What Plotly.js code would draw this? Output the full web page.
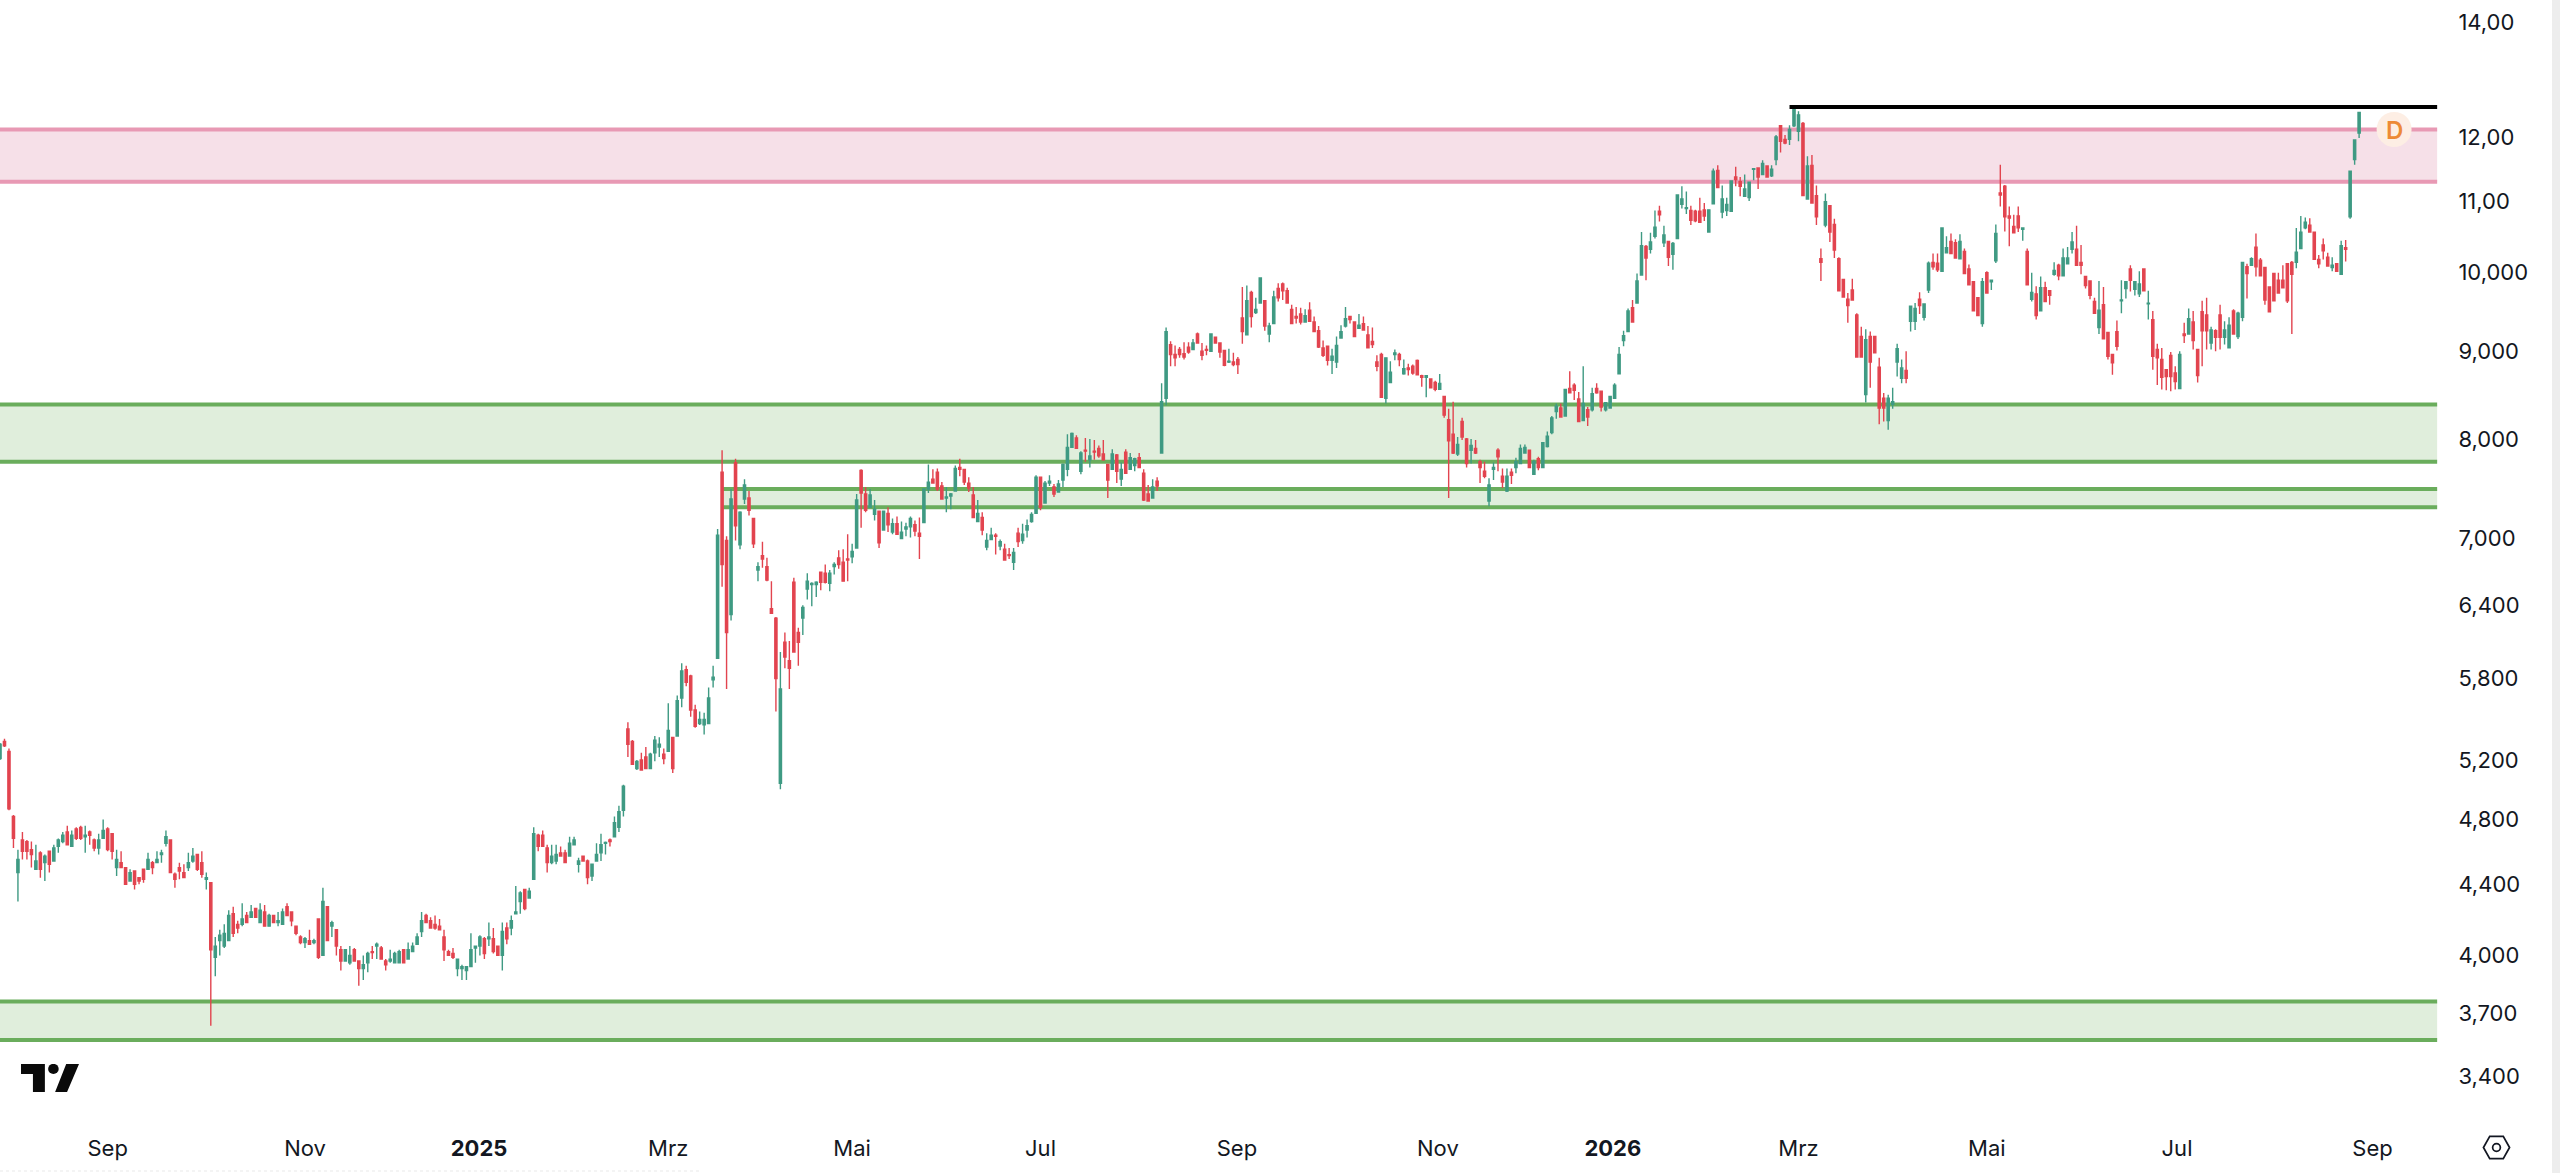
<!DOCTYPE html>
<html><head><meta charset="utf-8">
<script src="https://cdn.plot.ly/plotly-3.0.1.min.js"></script>
<style>html,body{margin:0;padding:0;background:#fff}#chart{width:2560px;height:1173px}</style>
</head><body><div id="chart"></div>
<script>
// each row: open, high, low, close
const bars2024 = [
[5.21,5.32,5.20,5.31],[5.33,5.35,5.29,5.30],[5.26,5.28,4.86,4.87],[4.82,4.83,4.62,4.68],[4.47,4.61,4.30,4.55],[4.67,4.72,4.55,4.60],[4.66,4.67,4.55,4.60],[4.61,4.66,4.50,4.58],[4.49,4.64,4.49,4.54],[4.59,4.60,4.44,4.49],
[4.53,4.58,4.42,4.57],[4.60,4.60,4.47,4.52],[4.54,4.64,4.54,4.62],[4.63,4.68,4.59,4.67],[4.66,4.72,4.65,4.70],[4.72,4.76,4.64,4.64],[4.63,4.73,4.63,4.70],[4.74,4.75,4.67,4.68],[4.75,4.76,4.67,4.68],[4.69,4.76,4.59,4.70],
[4.72,4.73,4.64,4.70],[4.67,4.68,4.60,4.62],[4.62,4.71,4.58,4.67],[4.68,4.80,4.68,4.73],[4.74,4.75,4.60,4.61],[4.71,4.71,4.55,4.60],[4.50,4.61,4.45,4.55],[4.53,4.60,4.50,4.50],[4.50,4.50,4.40,4.40],[4.42,4.49,4.42,4.47],
[4.48,4.48,4.37,4.40],[4.44,4.44,4.40,4.42],[4.49,4.49,4.41,4.43],[4.49,4.59,4.49,4.55],[4.53,4.54,4.46,4.50],[4.53,4.60,4.53,4.55],[4.58,4.61,4.53,4.59],[4.65,4.73,4.63,4.69],[4.67,4.67,4.47,4.47],[4.46,4.47,4.38,4.43],
[4.50,4.53,4.43,4.48],[4.47,4.52,4.44,4.44],[4.50,4.59,4.48,4.53],[4.54,4.62,4.53,4.57],[4.58,4.58,4.48,4.49],[4.53,4.60,4.44,4.46],[4.43,4.47,4.37,4.44],[4.41,4.41,3.64,4.03],[3.99,4.10,3.89,4.05],[4.08,4.14,4.00,4.11],
[4.05,4.17,4.04,4.12],[4.08,4.25,4.08,4.22],[4.23,4.27,4.10,4.12],[4.17,4.19,4.12,4.15],[4.17,4.29,4.16,4.20],[4.22,4.24,4.18,4.18],[4.21,4.28,4.21,4.24],[4.26,4.26,4.21,4.21],[4.18,4.29,4.18,4.25],[4.24,4.28,4.16,4.16],
[4.16,4.23,4.16,4.22],[4.22,4.22,4.18,4.18],[4.18,4.24,4.16,4.19],[4.17,4.26,4.17,4.24],[4.27,4.29,4.22,4.22],[4.24,4.24,4.16,4.19],[4.16,4.16,4.11,4.12],[4.10,4.11,4.06,4.07],[4.07,4.10,4.04,4.09],[4.08,4.14,4.06,4.06],
[4.07,4.09,4.06,4.08],[4.20,4.20,3.98,3.99],[4.00,4.38,4.00,4.30],[4.27,4.27,4.08,4.08],[4.16,4.19,4.10,4.18],[4.14,4.14,4.00,4.05],[4.03,4.05,3.92,3.97],[3.97,4.03,3.97,4.03],[3.96,4.05,3.95,4.00],[4.03,4.04,3.97,3.97],
[3.97,3.97,3.84,3.93],[3.93,4.00,3.87,3.95],[3.96,4.02,3.91,4.01],[4.02,4.05,3.98,4.015],[4.05,4.07,3.98,4.06],[4.04,4.05,3.98,3.98],[3.97,3.98,3.92,3.95],[3.97,4.03,3.96,3.98],[3.96,4.02,3.96,4.01],[3.96,4.03,3.96,4.02],
[4.03,4.03,3.96,3.96],[3.98,4.07,3.98,4.03],[4.02,4.07,4.02,4.05],[4.06,4.12,4.06,4.10],[4.13,4.24,4.10,4.19],[4.22,4.23,4.18,4.18],[4.19,4.21,4.15,4.15],[4.17,4.22,4.14,4.15],[4.16,4.20,4.14,4.14],[4.10,4.14,3.97,4.03],
[4.02,4.03,4.00,4.00],[4.01,4.04,3.98,3.99],[3.93,3.98,3.89,3.98],[3.93,3.95,3.87,3.94],[3.92,3.94,3.87,3.94],[3.94,4.12,3.94,4.03]];
const bars2025a = [
[4.04,4.05,3.96,4.05],[4.05,4.11,4.00,4.10],[4.09,4.10,3.98,4.01],[4.09,4.18,4.05,4.10],[4.09,4.15,4.01,4.02],[4.05,4.05,4.00,4.00],[4.00,4.18,3.92,4.13],[4.15,4.18,4.06,4.09],[4.15,4.22,4.11,4.19],
[4.23,4.39,4.23,4.24],[4.30,4.36,4.23,4.35],[4.37,4.37,4.25,4.26],[4.32,4.38,4.32,4.36],[4.43,4.75,4.43,4.71],[4.70,4.71,4.60,4.63],[4.70,4.73,4.63,4.63],[4.62,4.64,4.47,4.53],[4.53,4.64,4.52,4.57],[4.54,4.64,4.52,4.58],[4.59,4.63,4.57,4.57],
[4.59,4.61,4.53,4.53],[4.57,4.69,4.57,4.65],[4.64,4.69,4.64,4.67],[4.52,4.56,4.47,4.54],[4.57,4.57,4.54,4.54],[4.54,4.55,4.40,4.44],[4.45,4.52,4.42,4.52],[4.54,4.65,4.54,4.58],[4.59,4.71,4.54,4.64],[4.65,4.66,4.58,4.655],
[4.67,4.68,4.63,4.66],[4.69,4.82,4.69,4.78],[4.75,4.89,4.72,4.85],[4.86,5.03,4.82,5.02],[5.42,5.47,5.22,5.31],[5.33,5.34,5.17,5.17],[5.14,5.20,5.13,5.19],[5.20,5.25,5.13,5.13],[5.22,5.29,5.14,5.14],[5.14,5.25,5.14,5.24],
[5.25,5.37,5.19,5.34],[5.29,5.36,5.22,5.31],[5.24,5.28,5.17,5.21],[5.26,5.61,5.26,5.41],[5.36,5.36,5.11,5.14],[5.37,5.67,5.37,5.63],[5.65,5.92,5.58,5.86],[5.87,5.90,5.74,5.77],[5.82,5.83,5.51,5.56],[5.56,5.60,5.43,5.44],
[5.46,5.55,5.45,5.49],[5.45,5.54,5.38,5.49],[5.46,5.73,5.46,5.65],[5.79,5.90,5.73,5.81],[5.96,7.09,5.96,7.03],[7.65,7.88,6.56,6.76],[6.98,7.02,5.72,6.17],[6.32,7.48,6.27,7.38],[7.75,7.79,6.98,7.12],[6.94,7.26,6.90,7.25],
[7.38,7.58,7.33,7.52],[7.39,7.46,7.22,7.27],[7.19,7.19,6.91,6.95],[6.71,6.78,6.61,6.74],[6.84,6.97,6.73,6.81],[6.74,6.82,6.61,6.62],[6.37,6.61,6.33,6.33],[6.29,6.30,5.55,5.80],[5.04,6.01,5.00,5.72],[6.09,6.17,5.88,5.97],
[5.94,6.10,5.72,5.88],[6.60,6.64,6.01,6.01],[6.17,6.21,5.90,6.09],[6.29,6.40,6.15,6.38],[6.54,6.68,6.45,6.61],[6.58,6.60,6.39,6.59],[6.58,6.61,6.47,6.60],[6.69,6.69,6.53,6.60],[6.68,6.76,6.59,6.60],[6.59,6.71,6.52,6.68],
[6.74,6.78,6.67,6.76],[6.82,6.89,6.72,6.76],[6.78,6.90,6.61,6.61],[6.81,7.04,6.61,6.80],[6.83,6.95,6.77,6.88],[6.91,7.43,6.91,7.37],[7.67,7.68,7.10,7.44],[7.43,7.50,7.25,7.27],[7.30,7.48,7.30,7.42],[7.23,7.37,7.17,7.28],
[7.26,7.26,6.91,6.96],[7.08,7.26,7.08,7.26],[7.24,7.30,7.06,7.13],[7.06,7.19,7.04,7.14],[7.14,7.21,7.04,7.04],[7.00,7.16,7.00,7.06],[7.09,7.15,7.02,7.11],[7.11,7.21,7.01,7.19],[7.13,7.17,7.02,7.07],[7.05,7.20,6.81,7.02],
[7.15,7.48,7.15,7.48],[7.48,7.73,7.44,7.55],[7.58,7.68,7.54,7.54],[7.65,7.69,7.46,7.48],[7.51,7.55,7.38,7.38],[7.39,7.50,7.25,7.40],[7.41,7.44,7.28,7.43],[7.46,7.72,7.46,7.69],[7.70,7.79,7.61,7.68],[7.68,7.68,7.52,7.55],
[7.54,7.60,7.45,7.49],[7.42,7.50,7.20,7.20],[7.16,7.37,7.16,7.24],[7.20,7.25,7.03,7.08],[6.92,7.05,6.89,6.98],[6.99,7.10,6.99,7.03],[7.03,7.05,6.85,7.02],[6.93,6.99,6.89,6.97],[6.90,6.95,6.80,6.80],[6.85,6.91,6.81,6.84],
[6.78,6.91,6.71,6.87],[7.05,7.10,6.92,6.97],[6.98,7.14,6.95,7.04],[7.08,7.18,7.01,7.12],[7.16,7.25,7.15,7.23],[7.24,7.62,7.24,7.60],[7.60,7.60,7.27,7.30],[7.34,7.56,7.34,7.54],[7.54,7.62,7.51,7.56],[7.50,7.53,7.40,7.43]];
const bars2025b = [
[7.45,7.57,7.45,7.53],[7.57,7.74,7.50,7.73],[7.68,8.05,7.61,7.91],[7.91,8.07,7.91,8.06],[8.01,8.04,7.90,7.90],[7.66,7.87,7.63,7.85],[7.88,8.01,7.76,7.87],[7.78,8.00,7.70,7.82],[7.87,7.99,7.78,7.86],[7.90,7.93,7.80,7.82],
[7.84,7.99,7.77,7.78],[7.73,7.73,7.39,7.57],[7.68,7.89,7.68,7.84],[7.83,7.84,7.54,7.66],[7.58,7.75,7.51,7.68],[7.86,7.89,7.64,7.64],[7.68,7.85,7.68,7.80],[7.72,7.80,7.66,7.79],[7.80,7.85,7.70,7.70],[7.64,7.68,7.36,7.37],
[7.43,7.52,7.36,7.36],[7.39,7.58,7.39,7.50],[7.56,7.60,7.46,7.51],[7.85,8.62,7.85,8.41],[8.45,9.29,8.37,9.24],[9.08,9.12,8.82,8.96],[8.96,9.07,8.82,8.92],[9.02,9.05,8.92,8.96],[8.97,9.11,8.90,8.93],[9.05,9.11,8.97,8.99],
[9.02,9.15,9.02,9.10],[9.21,9.23,9.09,9.10],[9.00,9.10,8.89,8.95],[9.02,9.07,8.95,9.01],[9.00,9.21,9.00,9.21],[9.17,9.18,9.10,9.10],[9.10,9.10,8.92,8.99],[9.01,9.01,8.82,8.83],[8.87,9.03,8.86,8.88],[8.87,8.98,8.82,8.84],
[8.90,8.93,8.73,8.84],[9.41,9.81,9.09,9.24],[9.20,9.83,9.20,9.63],[9.74,9.76,9.29,9.43],[9.48,9.67,9.46,9.52],[9.60,9.93,9.60,9.93],[9.63,9.64,9.25,9.31],[9.21,9.35,9.11,9.31],[9.34,9.76,9.34,9.68],[9.79,9.86,9.62,9.67],
[9.85,9.87,9.64,9.76],[9.76,9.80,9.60,9.60],[9.52,9.58,9.34,9.34],[9.43,9.55,9.34,9.41],[9.46,9.54,9.33,9.36],[9.36,9.52,9.36,9.44],[9.51,9.61,9.37,9.37],[9.36,9.43,9.24,9.24],[9.25,9.31,9.04,9.05],[9.04,9.13,8.93,8.95],
[9.06,9.07,8.83,8.89],[8.89,9.03,8.73,8.94],[8.87,9.18,8.80,9.07],[9.16,9.32,9.16,9.24],[9.31,9.55,9.29,9.40],[9.43,9.44,9.34,9.39],[9.36,9.37,9.18,9.18],[9.28,9.46,9.28,9.32],[9.34,9.43,9.26,9.26],[9.20,9.31,9.04,9.04],
[9.12,9.29,9.04,9.08],[8.87,8.95,8.76,8.82],[8.96,8.98,8.46,8.46],[8.45,8.92,8.39,8.92],[8.63,8.88,8.62,8.75],[8.96,9.02,8.89,8.98],[8.96,8.98,8.82,8.90],[8.73,8.90,8.72,8.79],[8.80,8.85,8.71,8.78],[8.82,8.84,8.72,8.74],
[8.89,8.90,8.72,8.72],[8.71,8.72,8.58,8.69],[8.69,8.71,8.46,8.71],[8.67,8.68,8.57,8.57],[8.63,8.65,8.53,8.55],[8.55,8.73,8.55,8.62],[8.47,8.47,8.23,8.26],[8.21,8.33,7.39,7.98],[8.05,8.41,7.84,7.85],[7.84,8.02,7.82,7.94],
[8.19,8.23,7.99,8.02],[8.00,8.01,7.70,7.74],[7.88,8.00,7.74,7.93],[7.90,7.99,7.84,7.85],[7.76,7.78,7.54,7.70],[7.66,7.76,7.59,7.61],[7.36,7.59,7.31,7.52],[7.68,7.75,7.57,7.70],[7.88,7.90,7.66,7.81],[7.61,7.69,7.49,7.55],
[7.46,7.69,7.45,7.61],[7.65,7.69,7.53,7.62],[7.70,7.80,7.64,7.76],[7.74,7.94,7.74,7.90],[7.85,7.94,7.85,7.91],[7.88,7.88,7.70,7.70],[7.63,7.78,7.63,7.76],[7.79,7.81,7.67,7.70],[7.70,7.96,7.70,7.96],[7.92,8.08,7.91,8.03],
[8.07,8.25,8.05,8.23],[8.30,8.39,8.22,8.36],[8.34,8.39,8.24,8.24],[8.25,8.55,8.25,8.55],[8.56,8.76,8.51,8.51],[8.60,8.62,8.43,8.54],[8.44,8.52,8.19,8.19],[8.20,8.82,8.20,8.39],[8.32,8.35,8.14,8.24],[8.32,8.57,8.30,8.50],
[8.56,8.62,8.50,8.51],[8.53,8.53,8.30,8.35],[8.32,8.40,8.30,8.40],[8.34,8.47,8.34,8.47],[8.45,8.62,8.45,8.60]];
const bars2026a = [
[8.73,9.05,8.73,8.96],[9.13,9.25,9.06,9.19],[9.24,9.53,9.24,9.50],[9.54,9.64,9.36,9.36],[9.60,9.99,9.60,9.89],[9.97,10.56,9.97,10.37],[10.36,10.38,9.90,10.20],[10.32,10.55,10.26,10.42],[10.50,10.87,10.47,10.63],
[10.86,10.94,10.71,10.81],[10.41,10.65,10.35,10.52],[10.43,10.44,10.09,10.21],[10.25,10.42,10.04,10.40],[10.47,11.10,10.47,11.10],[10.96,11.23,10.90,11.04],[10.90,11.15,10.82,10.91],[10.87,10.94,10.66,10.73],[10.86,10.88,10.70,10.72],[10.86,11.06,10.70,10.70],[10.88,10.98,10.72,10.79],
[10.56,10.88,10.56,10.88],[10.97,11.50,10.97,11.46],[11.47,11.55,11.20,11.21],[10.85,11.24,10.76,11.04],[10.87,11.06,10.79,10.96],[10.86,11.32,10.86,11.31],[11.37,11.53,11.23,11.33],[11.30,11.37,11.08,11.23],[11.08,11.41,11.08,11.19],[11.06,11.29,11.01,11.29],
[11.49,11.51,11.32,11.50],[11.51,11.52,11.19,11.37],[11.41,11.63,11.41,11.58],[11.54,11.54,11.37,11.37],[11.39,11.55,11.37,11.49],[11.64,12.03,11.55,12.00],[12.18,12.19,11.75,11.93],[11.96,12.03,11.88,11.90],[11.96,12.19,11.87,12.12],[12.18,12.50,12.16,12.47],
[12.09,12.42,11.93,12.36],[12.22,12.24,11.09,11.09],[11.04,11.69,11.03,11.54],[11.55,11.71,10.98,10.98],[11.09,11.24,10.66,10.78],[10.19,10.33,9.89,10.14],[10.66,11.12,10.63,11.00],[10.94,10.95,10.42,10.56],[10.67,10.75,10.20,10.31],[10.19,10.21,9.76,9.76],
[9.91,9.92,9.68,9.68],[9.65,9.73,9.35,9.57],[9.77,9.92,9.64,9.64],[9.45,9.47,8.93,8.93],[9.18,9.30,8.93,8.93],[8.49,9.27,8.40,9.14],[9.18,9.24,8.57,8.87],[9.18,9.18,8.98,8.98],[8.81,8.92,8.16,8.34],[8.45,8.51,8.19,8.34],
[8.20,8.49,8.10,8.45],[8.38,8.57,8.33,8.41],[8.87,9.09,8.70,9.03],[8.68,8.90,8.62,8.80],[8.77,9.00,8.62,8.68],[9.37,9.57,9.24,9.56],[9.37,9.60,9.26,9.53],[9.65,9.74,9.46,9.57],[9.42,9.59,9.38,9.59],[9.77,10.15,9.73,10.13],
[10.14,10.26,10.04,10.08],[10.13,10.26,10.01,10.04],[10.02,10.62,10.02,10.62],[10.27,10.50,10.27,10.34],[10.43,10.54,10.26,10.26],[10.41,10.46,10.20,10.20],[10.19,10.53,10.19,10.43],[10.29,10.33,9.99,9.99],[10.05,10.11,9.84,9.84],[9.88,9.88,9.50,9.50],
[9.67,9.67,9.44,9.44],[9.34,9.93,9.30,9.88],[10.00,10.02,9.73,9.73],[9.88,9.90,9.77,9.90],[10.16,10.67,10.13,10.54],[11.13,11.56,10.93,11.10],[11.23,11.25,10.57,10.78],[10.79,10.93,10.36,10.76],[10.64,10.81,10.55,10.55],[10.79,10.93,10.56,10.62]];
const bars2026b = [
[10.60,10.63,10.44,10.62],[10.29,10.33,9.84,9.84],[9.65,10.00,9.62,9.74],[9.72,9.82,9.39,9.44],[9.50,9.95,9.50,9.80],[9.80,9.88,9.62,9.62],[9.76,9.77,9.58,9.70],[9.98,10.14,9.96,10.03],[10.10,10.12,9.90,9.96],[9.96,10.33,9.96,10.20],
[10.12,10.35,10.12,10.20],[10.32,10.56,10.26,10.42],[10.32,10.65,10.10,10.10],[10.14,10.38,9.98,10.10],[9.95,9.95,9.79,9.83],[9.89,9.90,9.65,9.70],[9.62,9.67,9.47,9.47],[9.29,9.89,9.21,9.51],[9.58,9.81,9.15,9.15],[9.23,9.23,8.90,8.94],
[8.96,8.96,8.72,8.86],[9.24,9.38,9.01,9.06],[9.63,9.90,9.47,9.64],[9.79,9.89,9.66,9.88],[10.05,10.10,9.75,9.90],[9.78,9.88,9.70,9.88],[9.72,10.02,9.68,9.85],[10.05,10.05,9.76,9.76],[9.59,9.76,9.39,9.60],[9.39,9.50,8.78,8.94],
[9.02,9.09,8.60,8.92],[8.90,9.04,8.55,8.69],[8.78,8.78,8.54,8.70],[8.95,8.99,8.53,8.70],[8.74,8.82,8.55,8.64],[8.56,9.00,8.56,8.96],[9.21,9.35,9.10,9.19],[9.21,9.53,9.21,9.40],[9.36,9.50,9.02,9.13],[9.02,9.02,8.63,8.71],
[9.49,9.63,8.82,9.25],[9.45,9.67,9.02,9.25],[9.10,9.30,9.02,9.26],[9.25,9.27,9.00,9.17],[9.45,9.58,9.02,9.17],[9.17,9.37,9.08,9.26],[9.04,9.42,9.04,9.32],[9.50,9.52,9.21,9.21],[9.18,9.49,9.15,9.47],[9.42,10.14,9.37,10.14],
[10.08,10.12,9.66,9.99],[10.10,10.21,10.10,10.19],[10.35,10.54,9.95,10.08],[10.17,10.20,9.96,9.96],[10.07,10.08,9.58,9.64],[9.81,9.82,9.49,9.49],[9.99,9.99,9.63,9.63],[9.90,10.00,9.73,9.73],[9.90,10.10,9.80,9.80],[10.12,10.13,9.60,9.63],
[10.14,10.16,9.21,9.98],[10.14,10.62,10.06,10.28],[10.33,10.79,10.33,10.56],[10.62,10.77,10.60,10.70],[10.66,10.76,10.56,10.56],[10.56,10.56,10.18,10.18],[10.18,10.24,10.06,10.12],[10.38,10.47,10.18,10.30],[10.21,10.27,10.09,10.09],[10.07,10.21,10.02,10.10],
[10.12,10.13,10.02,10.02],[9.98,10.44,9.98,10.37],[10.34,10.45,10.15,10.32],[10.78,11.46,10.75,11.46],[11.64,11.96,11.56,11.95],[12.06,12.41,11.98,12.40]];

const monthLabels = ['Sep','Nov','<b>2025</b>','Mrz','Mai','Jul','Sep','Nov','<b>2026</b>','Mrz','Mai','Jul','Sep'];
const monthBars   = [24,68,106.8,149,190,232,275.8,320.6,359.6,401,443,485.4,529];
const priceTicks  = [3.4,3.7,4,4.4,4.8,5.2,5.8,6.4,7,8,9,10,11,12,14];
const priceLabels = ['3,400','3,700','4,000','4,400','4,800','5,200','5,800','6,400','7,000','8,000','9,000','10,000','11,00','12,00','14,00'];

const greenLow  = [3.57,7.30,7.76];
const greenHigh = [3.76,7.48,8.38];
const greenFrom = [-1,161.2,-1];
const pinkLow = 11.30, pinkHigh = 12.12;
const resistance = 12.49, resistanceFrom = 399;
const zoneEnd = 543.4;
const lastMarkerBar = 533.8;

const W = 2560, H = 1173, plotW = 2445, plotH = 1120;
const rows = [...bars2024,...bars2025a,...bars2025b,...bars2026a,...bars2026b];
const xs = rows.map((_,i)=>i);
const UP = '#3f9a83', DOWN = '#e2444f';
const GL = '#6aad5c', GF = '#e0eedc', PL = '#e899b4', PF = '#f6e0e8';

function zone(low,high,from,fill,line){
  return [
    {type:'rect',layer:'below',xref:'x',yref:'y',x0:from,x1:zoneEnd,y0:low,y1:high,fillcolor:fill,line:{width:0}},
    {type:'line',layer:'below',xref:'x',yref:'y',x0:from,x1:zoneEnd,y0:low,y1:low,line:{color:line,width:4}},
    {type:'line',layer:'below',xref:'x',yref:'y',x0:from,x1:zoneEnd,y0:high,y1:high,line:{color:line,width:4}}
  ];
}
const shapes = [];
greenLow.forEach((l,k)=>shapes.push(...zone(l,greenHigh[k],greenFrom[k],GF,GL)));
shapes.push(...zone(pinkLow,pinkHigh,-1,PF,PL));
shapes.push({type:'line',xref:'x',yref:'y',x0:resistanceFrom,x1:zoneEnd,y0:resistance,y1:resistance,line:{color:'#000',width:4}});
shapes.push({type:'rect',xref:'paper',yref:'paper',x0:2552/plotW,x1:W/plotW,y0:(plotH-H)/plotH,y1:1,fillcolor:'#ededed',line:{width:0}});
shapes.push({type:'line',xref:'paper',yref:'paper',x0:0,x1:700/plotW,y0:(plotH-1171)/plotH,y1:(plotH-1171)/plotH,line:{color:'#f1f1f1',width:1.5,dash:'dot'}});

const logo = 'data:image/svg+xml;utf8,'+encodeURIComponent('<svg xmlns="http://www.w3.org/2000/svg" viewBox="0 0 34 17"><path fill="#0a0a0a" d="M14 0H0v6h7v11h7zM27 17h-7L26.5 0H34z"/><circle fill="#0a0a0a" cx="19" cy="3" r="3.1"/></svg>');
const hex = 'data:image/svg+xml;utf8,'+encodeURIComponent('<svg xmlns="http://www.w3.org/2000/svg" viewBox="0 0 30 26"><path fill="none" stroke="#131722" stroke-width="1.8" d="M8 1.5h14L28.5 13 22 24.5H8L1.5 13z"/><circle fill="none" stroke="#131722" stroke-width="1.8" cx="15" cy="13" r="4"/></svg>');

const trace = {
  type:'candlestick', x:xs,
  open:rows.map(r=>r[0]), high:rows.map(r=>r[1]), low:rows.map(r=>r[2]), close:rows.map(r=>r[3]),
  increasing:{line:{color:UP,width:1.4},fillcolor:UP},
  decreasing:{line:{color:DOWN,width:1.4},fillcolor:DOWN},
  whiskerwidth:0, hoverinfo:'skip', showlegend:false
};
const badge = {
  type:'scatter', mode:'markers', x:[lastMarkerBar], y:[pinkHigh],
  marker:{size:35,color:'#fdeee4',line:{width:0}},
  hoverinfo:'skip', showlegend:false
};
const layout = {
  width:W,height:H,paper_bgcolor:'#fff',plot_bgcolor:'#fff',showlegend:false,
  margin:{l:0,r:W-plotW,t:0,b:H-plotH,pad:0},
  font:{family:'Inter, "Noto Sans", sans-serif',size:22,color:'#131722'},
  xaxis:{type:'linear',range:[0,plotW/4.485],rangeslider:{visible:false},showgrid:false,zeroline:false,showline:false,
    tickmode:'array',tickvals:monthBars,ticktext:monthLabels,ticks:'outside',ticklen:9,tickcolor:'rgba(0,0,0,0)',
    tickfont:{family:'Inter, sans-serif',size:22,color:'#131722'},tickangle:0},
  yaxis:{type:'log',side:'right',range:[Math.log10(3.207),Math.log10(14.42)],showgrid:false,zeroline:false,showline:false,
    tickmode:'array',tickvals:priceTicks,ticktext:priceLabels,ticks:'outside',ticklen:8,tickcolor:'rgba(0,0,0,0)',ticklabelshift:-1.5,
    tickfont:{family:'Inter, sans-serif',size:22,color:'#131722'}},
  shapes:shapes,
  annotations:[{xref:'x',yref:'y',x:lastMarkerBar,y:Math.log10(pinkHigh),text:'D',showarrow:false,yshift:-1,
    font:{family:'Inter, sans-serif',size:24,color:'#ed8a36',weight:600},xanchor:'center',yanchor:'middle'}],
  images:[
    {source:logo,xref:'paper',yref:'paper',x:21/plotW,y:(plotH-1064)/plotH,sizex:58/plotW,sizey:28/plotH,sizing:'stretch',xanchor:'left',yanchor:'top',layer:'above'},
    {source:hex,xref:'paper',yref:'paper',x:2482/plotW,y:(plotH-1135)/plotH,sizex:29/plotW,sizey:25/plotH,sizing:'stretch',xanchor:'left',yanchor:'top',layer:'above'}
  ]
};
Plotly.newPlot('chart',[trace,badge],layout,{displayModeBar:false,staticPlot:true});
</script></body></html>
